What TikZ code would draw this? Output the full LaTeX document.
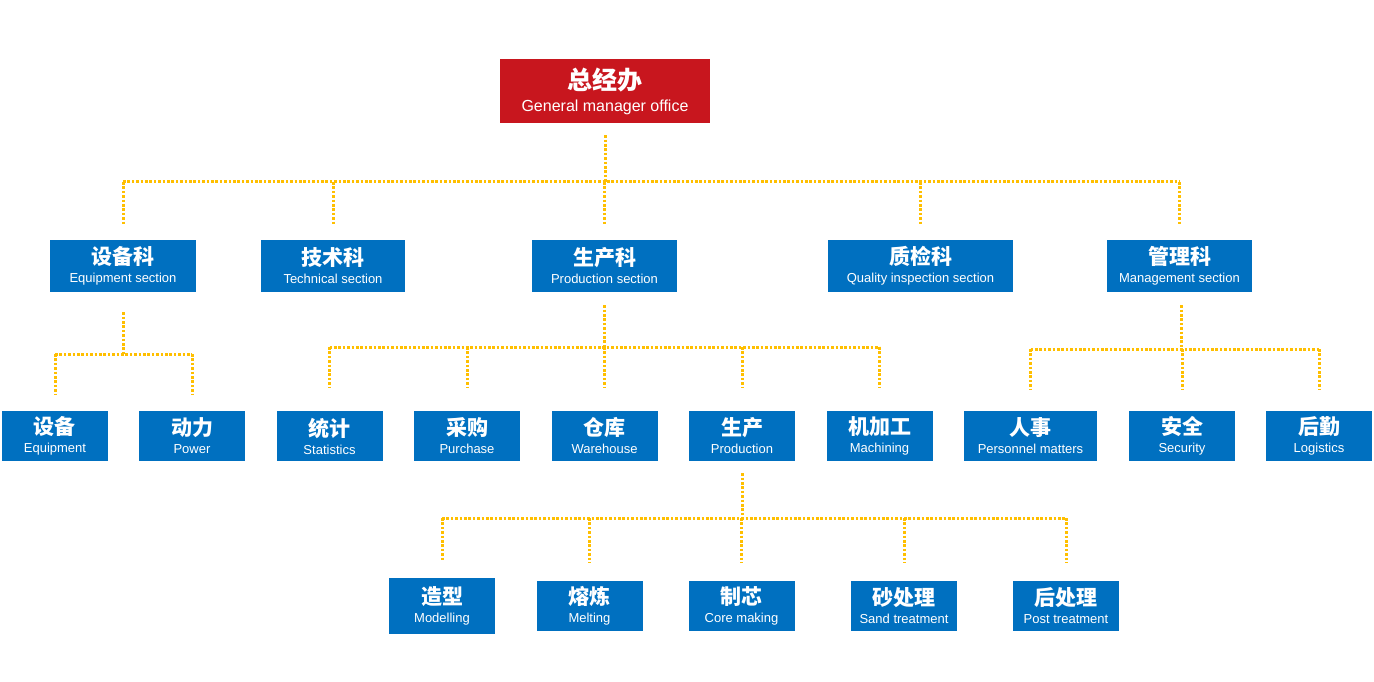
\documentclass[tikz,border=0pt]{standalone}
\usepackage{fontspec}
\setmainfont{Liberation Sans}
\newfontfamily\cjk{Noto Sans CJK SC}
\definecolor{boxblue}{HTML}{0070C0}
\definecolor{boxred}{HTML}{C8161E}
\definecolor{linkgold}{HTML}{FFBF00}
\newcommand{\orgtext}[3]{{\cjk\bfseries\fontsize{#3}{#3}\selectfont #1}\\[6pt]{\fontsize{13}{14}\selectfont #2}}
\tikzset{
  unit/.style={fill=boxblue, text=white, align=center, inner sep=0pt,
    minimum width=106pt, minimum height=50pt},
  head/.style={unit, fill=boxred, minimum width=210pt, minimum height=64pt},
  link/.style={linkgold, line width=3pt, dash pattern=on 2.6pt off 1.8pt}
}
\begin{document}
\begin{tikzpicture}[x=1pt,y=-1pt]
  \useasboundingbox (0,0) rectangle (1374,682);
  % top
  \node[head] (gm) at (605,91) {{\cjk\bfseries\fontsize{25}{25}\selectfont 总经办}\\[7pt]{\fontsize{16}{17}\selectfont General manager office}};
  % sections
  \node[unit, minimum width=146pt, minimum height=52pt] (eqs) at (123,266) {\orgtext{设备科}{Equipment section}{21}};
  \node[unit, minimum width=144pt, minimum height=52pt] (tcs) at (333,266) {\orgtext{技术科}{Technical section}{21}};
  \node[unit, minimum width=145pt, minimum height=52pt] (pds) at (604.5,266) {\orgtext{生产科}{Production section}{21}};
  \node[unit, minimum width=185pt, minimum height=52pt] (qis) at (920.5,266) {\orgtext{质检科}{Quality inspection section}{21}};
  \node[unit, minimum width=145pt, minimum height=52pt] (mgs) at (1179.5,266) {\orgtext{管理科}{Management section}{21}};
  % units
  \node[unit] (eqp) at (55,436) {\orgtext{设备}{Equipment}{21}};
  \node[unit] (pow) at (192,436) {\orgtext{动力}{Power}{21}};
  \node[unit] (sta) at (329.5,436) {\orgtext{统计}{Statistics}{21}};
  \node[unit] (pur) at (467,436) {\orgtext{采购}{Purchase}{21}};
  \node[unit] (wh) at (604.5,436) {\orgtext{仓库}{Warehouse}{21}};
  \node[unit] (prd) at (742,436) {\orgtext{生产}{Production}{21}};
  \node[unit] (mac) at (879.5,436) {\orgtext{机加工}{Machining}{21}};
  \node[unit, minimum width=133pt] (per) at (1030.5,436) {\orgtext{人事}{Personnel matters}{21}};
  \node[unit] (sec) at (1182,436) {\orgtext{安全}{Security}{21}};
  \node[unit] (log) at (1319,436) {\orgtext{后勤}{Logistics}{21}};
  % workshops
  \node[unit, minimum height=56pt] (mod) at (442,606) {\orgtext{造型}{Modelling}{21}};
  \node[unit] (mel) at (589.5,606) {\orgtext{熔炼}{Melting}{21}};
  \node[unit] (cor) at (741.5,606) {\orgtext{制芯}{Core making}{21}};
  \node[unit] (snd) at (904,606) {\orgtext{砂处理}{Sand treatment}{21}};
  \node[unit] (pst) at (1066,606) {\orgtext{后处理}{Post treatment}{21}};
  % bus lines
  \coordinate (bus0) at (605,182);
  \coordinate (bus1) at (123,354);
  \coordinate (bus2) at (605,347);
  \coordinate (bus3) at (1181,349);
  \coordinate (bus4) at (741,518);
  \draw[link, shorten <=12pt] (gm.south) -- (gm.south |- bus0);
  \draw[link] (eqs |- bus0) -- (mgs |- bus0);
  \foreach \n in {eqs,tcs,pds,qis,mgs}
    \draw[link, shorten >=15pt] (\n |- bus0) -- (\n.north);
  \draw[link, shorten <=20pt] (eqs.south) -- (eqs.south |- bus1);
  \draw[link] (eqp |- bus1) -- (pow |- bus1);
  \foreach \n in {eqp,pow}
    \draw[link, shorten >=17pt] (\n |- bus1) -- (\n.north);
  \draw[link, shorten <=13pt] (pds.south) -- (pds.south |- bus2);
  \draw[link] (sta |- bus2) -- (mac |- bus2);
  \foreach \n in {sta,pur,wh,prd,mac}
    \draw[link, shorten >=23pt] (\n |- bus2) -- (\n.north);
  \draw[link, shorten <=13pt] ([xshift=1.5pt]mgs.south) -- ([xshift=1.5pt]mgs.south |- bus3);
  \draw[link] (per |- bus3) -- (log |- bus3);
  \foreach \n in {per,sec,log}
    \draw[link, shorten >=22pt] (\n |- bus3) -- (\n.north);
  \draw[link, shorten <=12pt] (prd.south) -- (prd.south |- bus4);
  \draw[link] (mod |- bus4) -- (pst |- bus4);
  \foreach \n in {mod,mel,cor,snd,pst}
    \draw[link, shorten >=18pt] (\n |- bus4) -- (\n.north);
\end{tikzpicture}
\end{document}
